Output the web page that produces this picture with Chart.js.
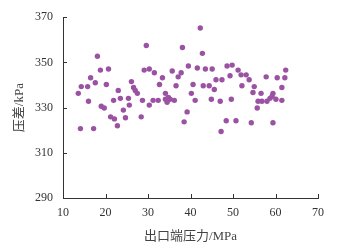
<!DOCTYPE html>
<html>
<head>
<meta charset="utf-8">
<script src="https://cdn.jsdelivr.net/npm/chart.js@4/dist/chart.umd.min.js"></script>
<style>
  html, body { margin: 0; padding: 0; background: #fff; }
</style>
</head>
<body>
<canvas id="pressureChart" width="350" height="250"></canvas>
<script>
// outlet pressure (MPa) vs pressure difference (kPa)
var outletMPa = [
  13.6, 14.3, 15.8, 16.5, 17.6, 16.0, 18.1, 18.8, 20.7, 20.2,
  19.0, 19.7, 21.9, 23.0, 23.5, 24.2, 25.4, 25.6, 26.1, 26.6,
  27.0, 27.5, 28.7, 29.1, 29.6, 30.3, 30.3, 31.2, 31.5, 32.4,
  32.7, 33.4, 34.1, 34.1, 34.8, 34.5, 35.2, 36.2, 35.7, 36.6,
  37.1, 37.8, 38.1, 39.5, 40.2, 41.1, 41.6, 42.3, 42.8, 39.2,
  38.5, 40.6, 43.0, 44.4, 45.6, 43.5, 45.1, 46.0, 47.4, 48.6,
  49.8, 49.3, 51.2, 51.9, 53.1, 53.8, 44.9, 47.0, 49.6, 52.1,
  48.4, 50.7, 47.2, 55.0, 54.7, 56.6, 59.4, 61.5, 55.9, 56.8,
  58.0, 58.7, 59.2, 60.1, 61.5, 55.7, 54.3, 59.4, 57.8, 60.4,
  62.2, 62.4, 24.7, 21.2, 22.1, 22.8, 28.4, 14.1, 17.2
]
var diffKPa = [
  336.3, 339.3, 339.3, 343.2, 341.0, 332.8, 352.7, 346.6, 347.1, 340.2,
  330.6, 329.8, 333.2, 337.6, 334.1, 328.9, 334.1, 331.1, 341.5, 338.9,
  337.6, 336.3, 333.2, 346.6, 357.5, 347.1, 331.1, 333.2, 345.4, 333.2,
  340.2, 343.2, 336.3, 333.7, 334.5, 332.4, 333.7, 333.2, 346.2, 339.7,
  343.6, 345.4, 356.6, 348.4, 336.3, 333.2, 347.5, 365.2, 354.0, 328.1,
  323.7, 340.2, 339.7, 339.7, 338.0, 347.1, 347.1, 342.3, 342.3, 348.4,
  348.8, 344.1, 346.6, 344.5, 344.5, 342.3, 333.7, 332.8, 333.7, 339.7,
  324.2, 324.2, 319.4, 339.3, 336.7, 336.3, 336.3, 338.9, 332.8, 332.8,
  332.8, 334.1, 335.0, 333.7, 333.2, 329.8, 323.3, 323.3, 343.6, 343.2,
  343.2, 346.6, 325.5, 325.9, 325.0, 322.0, 325.9, 320.7, 320.7
]
var xTitle = "出口端压力/MPa"
var yTitle = "压差/kPa"

var points = []
for (var i = 0; i < outletMPa.length; i++) {
  points.push({ x: outletMPa[i], y: diffKPa[i] })
}

var tickFont = { family: "'Liberation Serif', 'Noto Sans CJK SC', serif", size: 12 }
var titleFont = { family: "'Liberation Serif', 'Noto Sans CJK SC', serif", size: 13 }

// small ticks pointing into the plot
var innerTicks = {
  id: "innerTicks",
  afterDraw: function (chart) {
    var ctx = chart.ctx
    var xs = chart.scales.x, ys = chart.scales.y
    ctx.save()
    ctx.strokeStyle = "#333"
    ctx.lineWidth = 1
    xs.ticks.forEach(function (t) {
      var px = Math.round(xs.getPixelForValue(t.value)) + 0.5
      ctx.beginPath()
      ctx.moveTo(px, xs.top)
      ctx.lineTo(px, xs.top - 4)
      ctx.stroke()
    })
    ys.ticks.forEach(function (t) {
      var py = Math.round(ys.getPixelForValue(t.value)) + 0.5
      ctx.beginPath()
      ctx.moveTo(ys.right, py)
      ctx.lineTo(ys.right + 4, py)
      ctx.stroke()
    })
    ctx.restore()
  }
}

var chart = new Chart(document.getElementById("pressureChart"), {
  type: "scatter",
  data: {
    datasets: [{
      data: points,
      backgroundColor: "#9b52a3",
      borderWidth: 0,
      pointRadius: 2.7
    }]
  },
  options: {
    responsive: false,
    animation: false,
    layout: { padding: { top: 13, right: 32, left: 0, bottom: 0 } },
    plugins: { legend: { display: false }, tooltip: { enabled: false } },
    scales: {
      x: {
        type: "linear",
        min: 10, max: 70,
        afterFit: function (s) { s.height = 52 },
        ticks: { stepSize: 10, padding: 8, color: "#333", font: tickFont },
        grid: { drawOnChartArea: false, drawTicks: false },
        border: { display: true, color: "#333", width: 1 },
        title: { display: true, text: xTitle, color: "#444", font: titleFont, padding: { top: 0, bottom: 6 } }
      },
      y: {
        min: 290, max: 370,
        afterFit: function (s) { s.width = 63 },
        ticks: { stepSize: 20, padding: 10, color: "#333", font: tickFont },
        grid: { drawOnChartArea: false, drawTicks: false },
        border: { display: true, color: "#333", width: 1 },
        title: { display: true, text: yTitle, color: "#444", font: titleFont, padding: { top: 12, bottom: 0 } }
      }
    }
  },
  plugins: [innerTicks]
})
</script>
</body>
</html>
